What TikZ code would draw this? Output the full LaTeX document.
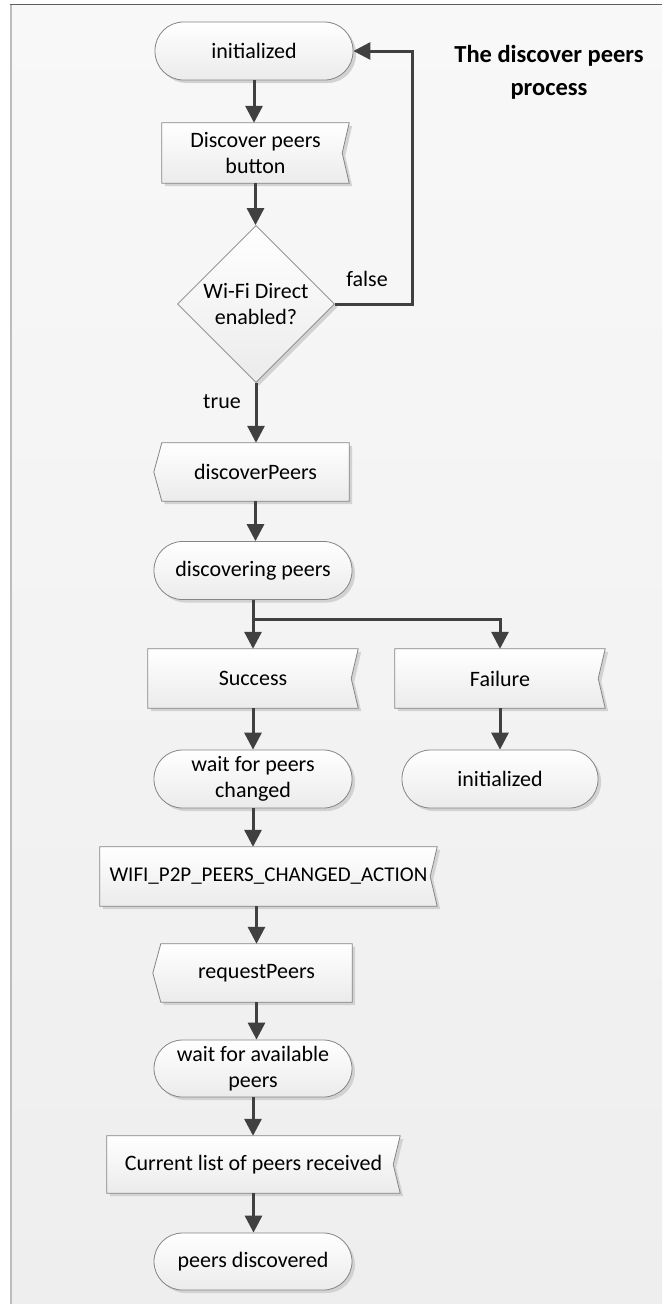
\documentclass[tikz,border=0pt]{standalone}
\usepackage{fontspec}
\setmainfont{Carlito}
\usetikzlibrary{arrows.meta,shapes.geometric,shadows}

\definecolor{panelTop}{HTML}{F8F8F8}
\definecolor{panelBot}{HTML}{EEEEEE}
\definecolor{frameDark}{HTML}{5E5E5E}
\definecolor{frameLight}{HTML}{BDBDBD}
\definecolor{edgeC}{HTML}{858585}
\definecolor{fillBot}{HTML}{EBEBEB}
\definecolor{wireC}{HTML}{404040}
\definecolor{shadeC}{HTML}{D2D2D2}

\pgfdeclarelayer{panel}
\pgfdeclarelayer{background}
\pgfsetlayers{panel,background,main}

\tikzset{
  every node/.style={font=\fontsize{22}{26.5}\selectfont, text=black},
  shapefill/.style={draw=edgeC, line width=0.8pt, top color=white, bottom color=fillBot,
    drop shadow={shadow xshift=3pt, shadow yshift=-3pt, fill=shadeC, opacity=1}},
  terminal/.style={shapefill, rectangle, rounded corners=28.5pt, minimum width=198pt,
    minimum height=58pt, inner sep=0pt, align=center},
  boxlabel/.style={rectangle, inner sep=0pt, minimum height=59pt, align=center},
  decision/.style={shapefill, diamond, aspect=1, minimum width=157pt, minimum height=157pt,
    inner sep=0pt, align=center},
  flow/.style={draw=wireC, line width=3pt, -{Triangle[length=17pt,width=17pt]}},
  heading/.style={font=\fontsize{24.5}{33}\selectfont\bfseries, align=center},
}

% box with an inward notch on its right side
\newcommand\notchbox[1]{%
  \path[shapefill] (#1.north west) -- (#1.north east) -- ([xshift=-7pt]#1.east)
    -- (#1.south east) -- (#1.south west) -- cycle;}
% box with a pointed left side
\newcommand\pointbox[1]{%
  \path[shapefill] (#1.north west) -- (#1.north east) -- (#1.south east)
    -- (#1.south west) -- ([xshift=-8pt]#1.west) -- cycle;}

\begin{document}
\begin{tikzpicture}[x=1pt, y=-1pt]
\useasboundingbox (0,0) rectangle (662,1304);

% page panel and its frame
\begin{pgfonlayer}{panel}
  \fill[top color=panelTop, bottom color=panelBot] (10,4) rectangle (662,1304);
  \draw[frameLight, line width=2pt] (11,4) -- (11,1304);
  \draw[frameDark, line width=1.2pt] (10,4.5) -- (662,4.5);
\end{pgfonlayer}

\node[heading] (title) at (549,72) {The discover peers\\process};

% main column
\node[terminal] (init1) at (254,51) {initialized};
\node[boxlabel, minimum width=187pt, minimum height=60pt] (button) at (255.5,153) {Discover peers\\button};
\node[decision] (wifi) at (256,304) {Wi-Fi Direct\\enabled?};
\node[boxlabel, minimum width=187pt, minimum height=58pt] (discover) at (255.5,472) {discoverPeers};
\node[terminal] (discovering) at (253,570.5) {discovering peers};
\node[boxlabel, minimum width=210pt] (success) at (253,678.5) {Success};
\node[boxlabel, minimum width=210pt] (failure) at (500,678.5) {Failure};
\node[terminal] (wait1) at (253,779) {wait for peers\\changed};
\node[terminal, minimum width=196pt] (init2) at (500,779) {initialized};
\node[boxlabel, minimum width=337pt, font=\fontsize{21}{26}\selectfont] (action) at (268.5,876.5) {WIFI\_P2P\_PEERS\_CHANGED\_ACTION};
\node[boxlabel, minimum width=191pt, minimum height=58pt] (request) at (256.5,973) {requestPeers};
\node[terminal, minimum height=57pt] (wait2) at (253,1068.5) {wait for available\\peers};
\node[boxlabel, minimum width=293pt, minimum height=57pt] (current) at (253.5,1164.5) {Current list of peers received};
\node[terminal, minimum height=57pt] (done) at (253,1261.5) {peers discovered};

% outlines of the signal boxes
\begin{pgfonlayer}{background}
  \notchbox{button}
  \pointbox{discover}
  \notchbox{success}
  \notchbox{failure}
  \notchbox{action}
  \pointbox{request}
  \notchbox{current}
\end{pgfonlayer}

% connectors
\draw[flow] (init1.south) -- (init1.south |- button.north);
\draw[flow] (button.south) -- (button.south |- wifi.north);
\coordinate (back) at (412,304);
\draw[flow] (wifi.east) -- (back) |- (init1.east);
\node (lblfalse) at (367,279) {false};
\draw[flow] (wifi.south) -- (wifi.south |- discover.north);
\node (lbltrue) at (222,402) {true};
\draw[flow] (discover.south) -- (discover.south |- discovering.north);
\coordinate (split) at ([yshift=-20pt]discovering.south);
\draw[flow] (discovering.south) -- (discovering.south |- success.north);
\draw[flow] (split) -| (failure.north);
\draw[flow] (success.south) -- (success.south |- wait1.north);
\draw[flow] (failure.south) -- (init2.north);
\draw[flow] (wait1.south) -- (wait1.south |- action.north);
\draw[flow] (request.north |- action.south) -- (request.north);
\draw[flow] (request.south) -- (request.south |- wait2.north);
\draw[flow] (wait2.south) -- (wait2.south |- current.north);
\draw[flow] (current.south) -- (current.south |- done.north);
\end{tikzpicture}
\end{document}
